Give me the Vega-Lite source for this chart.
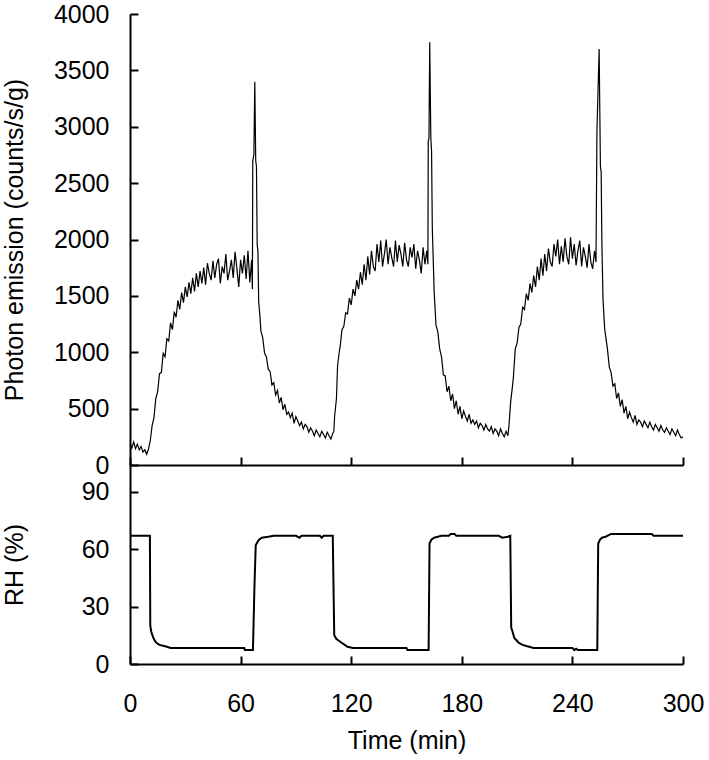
{
"$schema":"https://vega.github.io/schema/vega-lite/v6.json",
"padding":{"left":2,"top":2,"right":5,"bottom":5},
"background":"white",
"bounds":"flush",
"spacing":0,
"config":{
 "view":{"stroke":null},
 "font":"Liberation Sans",
 "axis":{"grid":false,"domainColor":"black","domainWidth":2,"tickColor":"black","tickWidth":2,"tickSize":-8,
  "labelFont":"Liberation Sans","labelFontSize":25,"labelColor":"black","labelFlush":false,"labelOverlap":false,
  "titleFont":"Liberation Sans","titleFontSize":25,"titleFontWeight":"normal","titleColor":"black"}
},
"datasets":{
"photon":[
{"t":0,"v":190},{"t":1,"v":150},{"t":2,"v":205},{"t":3,"v":145},{"t":4,"v":185},{"t":5,"v":135},{"t":6,"v":165},{"t":7,"v":115},{"t":8,"v":135},{"t":9,"v":95},
{"t":10,"v":140},{"t":11,"v":215},{"t":12,"v":350},{"t":13,"v":420},{"t":14,"v":590},{"t":15,"v":650},{"t":16,"v":810},{"t":17,"v":820},{"t":18,"v":990},{"t":19,"v":960},
{"t":20,"v":1120},{"t":21,"v":1100},{"t":22,"v":1260},{"t":23,"v":1200},{"t":24,"v":1360},{"t":25,"v":1310},{"t":26,"v":1460},{"t":27,"v":1380},{"t":28,"v":1530},{"t":29,"v":1440},
{"t":30,"v":1580},{"t":31,"v":1490},{"t":32,"v":1620},{"t":33,"v":1520},{"t":34,"v":1660},{"t":35,"v":1540},{"t":36,"v":1700},{"t":37,"v":1580},{"t":38,"v":1720},{"t":39,"v":1610},
{"t":40,"v":1750},{"t":41,"v":1600},{"t":42,"v":1790},{"t":43,"v":1700},{"t":44,"v":1640},{"t":45,"v":1810},{"t":46,"v":1660},{"t":47,"v":1780},{"t":48,"v":1830},{"t":49,"v":1610},
{"t":50,"v":1760},{"t":51,"v":1700},{"t":52,"v":1870},{"t":53,"v":1640},{"t":54,"v":1720},{"t":55,"v":1820},{"t":56,"v":1660},{"t":57,"v":1890},{"t":58,"v":1740},{"t":59,"v":1580},
{"t":60,"v":1820},{"t":61,"v":1700},{"t":62,"v":1860},{"t":63,"v":1650},{"t":64,"v":1900},{"t":65,"v":1620},{"t":66,"v":1820},{"t":66.4,"v":1560},{"t":66.6,"v":2700},{"t":67.2,"v":2750},
{"t":67.7,"v":3400},{"t":68.2,"v":2700},{"t":68.6,"v":2650},{"t":69,"v":1950},{"t":69.4,"v":1900},{"t":69.8,"v":1450},{"t":70.5,"v":1320},{"t":71,"v":1190},{"t":72,"v":1130},{"t":73,"v":990},
{"t":74,"v":960},{"t":75,"v":850},{"t":76,"v":830},{"t":77,"v":710},{"t":78,"v":730},{"t":79,"v":620},{"t":80,"v":660},{"t":81,"v":550},{"t":82,"v":600},{"t":83,"v":490},
{"t":84,"v":540},{"t":85,"v":450},{"t":86,"v":470},{"t":87,"v":420},{"t":88,"v":460},{"t":89,"v":370},{"t":90,"v":430},{"t":91,"v":390},{"t":92,"v":350},{"t":93,"v":380},
{"t":94,"v":320},{"t":95,"v":360},{"t":96,"v":340},{"t":97,"v":290},{"t":98,"v":330},{"t":99,"v":300},{"t":100,"v":260},{"t":101,"v":310},{"t":102,"v":280},{"t":103,"v":250},
{"t":104,"v":300},{"t":105,"v":270},{"t":106,"v":240},{"t":107,"v":290},{"t":108,"v":260},{"t":109,"v":230},{"t":110,"v":280},{"t":110.6,"v":300},{"t":111,"v":430},{"t":112,"v":590},
{"t":112.6,"v":880},{"t":113.5,"v":1000},{"t":114,"v":1050},{"t":115,"v":1200},{"t":116,"v":1230},{"t":117,"v":1350},{"t":118,"v":1340},{"t":119,"v":1480},{"t":120,"v":1420},{"t":121,"v":1560},
{"t":122,"v":1500},{"t":123,"v":1640},{"t":124,"v":1560},{"t":125,"v":1710},{"t":126,"v":1600},{"t":127,"v":1780},{"t":128,"v":1640},{"t":129,"v":1850},{"t":130,"v":1690},{"t":131,"v":1900},
{"t":132,"v":1760},{"t":133,"v":1720},{"t":134,"v":1960},{"t":135,"v":1800},{"t":136,"v":1990},{"t":137,"v":1760},{"t":138,"v":1870},{"t":139,"v":2000},{"t":140,"v":1780},{"t":141,"v":1930},
{"t":142,"v":1840},{"t":143,"v":1760},{"t":144,"v":1990},{"t":145,"v":1800},{"t":146,"v":1950},{"t":147,"v":1870},{"t":148,"v":1760},{"t":149,"v":1970},{"t":150,"v":1820},{"t":151,"v":1760},
{"t":152,"v":1930},{"t":153,"v":1840},{"t":154,"v":1960},{"t":155,"v":1740},{"t":156,"v":1900},{"t":157,"v":1820},{"t":158,"v":1700},{"t":159,"v":1930},{"t":160,"v":1780},{"t":161,"v":1900},
{"t":161.6,"v":1780},{"t":161.8,"v":2870},{"t":162.2,"v":2900},{"t":162.6,"v":3750},{"t":163.2,"v":2900},{"t":163.6,"v":2780},{"t":164,"v":2100},{"t":165,"v":1540},{"t":166,"v":1240},{"t":167,"v":1180},
{"t":168,"v":1030},{"t":169,"v":960},{"t":170,"v":800},{"t":171,"v":790},{"t":172,"v":650},{"t":173,"v":700},{"t":174,"v":570},{"t":175,"v":630},{"t":176,"v":500},{"t":177,"v":570},
{"t":178,"v":450},{"t":179,"v":520},{"t":180,"v":410},{"t":181,"v":480},{"t":182,"v":430},{"t":183,"v":390},{"t":184,"v":450},{"t":185,"v":370},{"t":186,"v":400},{"t":187,"v":360},
{"t":188,"v":390},{"t":189,"v":330},{"t":190,"v":370},{"t":191,"v":350},{"t":192,"v":310},{"t":193,"v":360},{"t":194,"v":320},{"t":195,"v":300},{"t":196,"v":340},{"t":197,"v":280},
{"t":198,"v":320},{"t":199,"v":300},{"t":200,"v":260},{"t":201,"v":320},{"t":202,"v":280},{"t":203,"v":250},{"t":204,"v":300},{"t":205,"v":260},{"t":205.6,"v":350},{"t":206.5,"v":560},
{"t":207.5,"v":700},{"t":208,"v":780},{"t":209,"v":1030},{"t":210,"v":1080},{"t":211,"v":1220},{"t":212,"v":1250},{"t":213,"v":1400},{"t":214,"v":1380},{"t":215,"v":1520},{"t":216,"v":1460},
{"t":217,"v":1610},{"t":218,"v":1530},{"t":219,"v":1680},{"t":220,"v":1580},{"t":221,"v":1760},{"t":222,"v":1640},{"t":223,"v":1830},{"t":224,"v":1680},{"t":225,"v":1870},{"t":226,"v":1720},
{"t":227,"v":1920},{"t":228,"v":1800},{"t":229,"v":1760},{"t":230,"v":1960},{"t":231,"v":1850},{"t":232,"v":2000},{"t":233,"v":1780},{"t":234,"v":1940},{"t":235,"v":1800},{"t":236,"v":2010},
{"t":237,"v":1850},{"t":238,"v":1780},{"t":239,"v":2020},{"t":240,"v":1830},{"t":241,"v":1960},{"t":242,"v":1770},{"t":243,"v":1900},{"t":244,"v":1990},{"t":245,"v":1760},{"t":246,"v":1930},
{"t":247,"v":1850},{"t":248,"v":1750},{"t":249,"v":1960},{"t":250,"v":1800},{"t":251,"v":1740},{"t":252,"v":1900},{"t":252.8,"v":1800},{"t":253.3,"v":2950},{"t":254.5,"v":3690},{"t":255.2,"v":2650},
{"t":255.6,"v":2600},{"t":256,"v":1960},{"t":256.6,"v":1470},{"t":257.5,"v":1210},{"t":258.5,"v":1090},{"t":259,"v":1030},{"t":260,"v":870},{"t":261,"v":820},{"t":262,"v":700},{"t":263,"v":720},
{"t":264,"v":590},{"t":265,"v":640},{"t":266,"v":520},{"t":267,"v":580},{"t":268,"v":460},{"t":269,"v":520},{"t":270,"v":410},{"t":271,"v":470},{"t":272,"v":420},{"t":273,"v":380},
{"t":274,"v":440},{"t":275,"v":360},{"t":276,"v":400},{"t":277,"v":380},{"t":278,"v":340},{"t":279,"v":390},{"t":280,"v":360},{"t":281,"v":330},{"t":282,"v":380},{"t":283,"v":340},
{"t":284,"v":310},{"t":285,"v":360},{"t":286,"v":330},{"t":287,"v":300},{"t":288,"v":350},{"t":289,"v":310},{"t":290,"v":290},{"t":291,"v":330},{"t":292,"v":300},{"t":293,"v":270},
{"t":294,"v":320},{"t":295,"v":290},{"t":296,"v":260},{"t":297,"v":310},{"t":298,"v":270},{"t":299,"v":240},{"t":300,"v":250}
],
"rh":[
{"t":0,"rh":67},{"t":10.8,"rh":67},{"t":11,"rh":20},{"t":11.5,"rh":17},{"t":12.5,"rh":14},{"t":13.5,"rh":12},{"t":14.5,"rh":11},{"t":16,"rh":10},{"t":18,"rh":9.5},{"t":20,"rh":9},
{"t":22,"rh":8.4},{"t":62,"rh":8.4},{"t":62.3,"rh":7.3},{"t":66.7,"rh":7.3},{"t":67.5,"rh":40},{"t":68.2,"rh":62},{"t":69,"rh":63.5},{"t":70,"rh":65},{"t":71.5,"rh":66},{"t":75,"rh":66.5},
{"t":78,"rh":67},{"t":90,"rh":67},{"t":92,"rh":66},{"t":93,"rh":67},{"t":103,"rh":67},{"t":104,"rh":66},{"t":105,"rh":67},{"t":110,"rh":67},{"t":110.8,"rh":15},{"t":112,"rh":13},
{"t":113.5,"rh":12},{"t":115,"rh":11},{"t":116.5,"rh":10},{"t":118,"rh":9},{"t":121,"rh":8.4},{"t":150,"rh":8.4},{"t":150.5,"rh":7.3},{"t":162,"rh":7.3},{"t":162.5,"rh":63},{"t":163.5,"rh":65},
{"t":165,"rh":66},{"t":169,"rh":67},{"t":173,"rh":67},{"t":174,"rh":68},{"t":176,"rh":68},{"t":177,"rh":67},{"t":200,"rh":67},{"t":202,"rh":66},{"t":205,"rh":66.5},{"t":206.3,"rh":67},
{"t":206.8,"rh":19},{"t":207.5,"rh":17},{"t":208.5,"rh":13.6},{"t":210,"rh":12},{"t":211,"rh":11},{"t":213,"rh":10},{"t":215,"rh":9.4},{"t":219,"rh":8.4},{"t":240,"rh":8.4},{"t":241,"rh":7.3},
{"t":242,"rh":8},{"t":243,"rh":7.3},{"t":253.5,"rh":7.3},{"t":254,"rh":63},{"t":255,"rh":65},{"t":256,"rh":66},{"t":258,"rh":66.5},{"t":261,"rh":68},{"t":283,"rh":68},{"t":284,"rh":67},
{"t":300,"rh":67}
]
},
"vconcat":[
 {"width":553,"height":451,"data":{"name":"photon"},
  "mark":{"type":"line","color":"black","strokeWidth":1.2},
  "encoding":{
   "x":{"field":"t","type":"quantitative","scale":{"domain":[0,300],"nice":false,"zero":false},
        "axis":{"values":[0,60,120,180,240,300],"labels":false,"title":null}},
   "y":{"field":"v","type":"quantitative","scale":{"domain":[0,4000],"nice":false},
        "axis":{"values":[0,500,1000,1500,2000,2500,3000,3500,4000],"format":"d","title":"Photon emission (counts/s/g)","labelPadding":29,"titlePadding":26}}
  }},
 {"width":553,"height":199,"data":{"name":"rh"},
  "mark":{"type":"line","color":"black","strokeWidth":2},
  "encoding":{
   "x":{"field":"t","type":"quantitative","scale":{"domain":[0,300],"nice":false,"zero":false},
        "axis":{"values":[0,60,120,180,240,300],"format":"d","title":"Time (min)","labelPadding":35,"titlePadding":12}},
   "y":{"field":"rh","type":"quantitative","scale":{"domain":[0,104],"nice":false},
        "axis":{"values":[0,30,60,90],"format":"d","title":"RH (%)","labelPadding":29,"titlePadding":54}}
  }}
]
}
